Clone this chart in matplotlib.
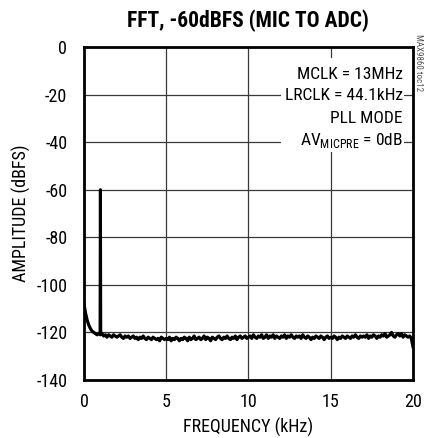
import matplotlib
matplotlib.use("Agg")
import matplotlib.pyplot as plt
from matplotlib import font_manager
from matplotlib.patches import Rectangle
import numpy as np

# pick a condensed sans close to Helvetica Condensed
_installed = {f.name for f in font_manager.fontManager.ttflist}
FONT = next((n for n in ["Roboto Condensed", "Archivo Narrow", "DejaVu Sans Condensed"]
             if n in _installed), "DejaVu Sans")
plt.rcParams["font.family"] = [FONT, "DejaVu Sans"]
plt.rcParams["mathtext.fontset"] = "custom"
plt.rcParams["mathtext.rm"] = FONT
plt.rcParams["axes.unicode_minus"] = False

# noise floor, sampled every 0.1 kHz from 0 to 20 kHz (dBFS)
NOISE_DBFS = [
    -108, -112, -115, -117, -118.5, -119.5, -120, -120.5, -121, -120.5,
    -121, -120.5, -121.5, -121, -122, -121, -121.5, -122, -121, -121.5,
    -122, -121.5, -121, -122, -122.5, -121.5, -122, -121.5, -122.5, -122,
    -121.5, -122.5, -122, -123, -122, -122.5, -121.5, -122.5, -123, -122,
    -122.5, -123, -122, -122.5, -123, -122.5, -123.5, -122, -122.5, -123,
    -122.5, -123, -122, -123.5, -122.5, -123, -122, -122.5, -123.5, -122.5,
    -123, -122, -122.5, -123.5, -122, -123, -122.5, -121.5, -123, -122.5,
    -122, -123, -122.5, -121.5, -123, -122, -122.5, -123.5, -122, -122.5,
    -123, -122, -121.5, -122.5, -123, -122, -122.5, -121.5, -122.5, -123,
    -122, -122.5, -121.5, -123, -122, -121.5, -122.5, -122, -121.5, -122.5,
    -122, -121.5, -122.5, -121, -122, -122.5, -121.5, -122, -121, -122.5,
    -122, -121, -122.5, -121.5, -122, -121, -122.5, -121.5, -122, -122.5,
    -121.5, -122, -121, -122.5, -121.5, -122, -121, -122, -122.5, -121.5,
    -122, -121.5, -122.5, -121, -122, -122.5, -121.5, -122, -123, -122,
    -122.5, -121.5, -122, -122.5, -121.5, -122, -123, -122, -121.5, -122.5,
    -122, -122.5, -121.5, -122, -123, -122, -122.5, -121.5, -122, -122.5,
    -121.5, -122, -122.5, -121.5, -122, -121, -122, -122.5, -121.5, -122,
    -121.5, -122, -121, -122.5, -121.5, -122, -121, -121.5, -122.5, -121.5,
    -122, -121, -121.5, -120.5, -122, -121.5, -121, -120, -121.5, -122,
    -121, -120.5, -121.5, -120.5, -122, -121, -121.5, -122, -121.5, -122.5,
    -126,
]
NOISE_FREQ_KHZ = np.linspace(0, 20, len(NOISE_DBFS))

# -60dBFS test tone at 1kHz
TONE_FREQ_KHZ = [0.98, 1.0, 1.02]
TONE_DBFS = [-120, -60, -120]

NOTES = ["MCLK = 13MHz", "LRCLK = 44.1kHz", "PLL MODE", r"AV$_{\mathrm{MICPRE}}$ = 0dB"]
NOTE_Y = [-11.4, -20.6, -29.9, -39.1]

fig = plt.figure(figsize=(4.24, 4.38), dpi=100)
ax = fig.add_axes([0.198, 0.1324, 0.776, 0.7603])

ax.plot(NOISE_FREQ_KHZ, NOISE_DBFS, color="black", lw=2.3, zorder=3)
ax.plot(TONE_FREQ_KHZ, TONE_DBFS, color="black", lw=2.2, zorder=3)

ax.set_xlim(0, 20)
ax.set_ylim(-140, 0)
ax.set_xticks([0, 5, 10, 15, 20])
ax.set_yticks(range(-140, 1, 20))
ax.grid(True, color="#3a3a3a", lw=0.9)
ax.tick_params(length=0, labelsize=13)
ax.tick_params(axis="y", pad=12)
ax.tick_params(axis="x", pad=9)
for s in ax.spines.values():
    s.set_linewidth(2.0)

# white block behind the conditions text
ax.add_patch(Rectangle((11.95, -44.2), 7.5, 39.6, facecolor="white",
                       edgecolor="none", zorder=2))
for txt, y in zip(NOTES, NOTE_Y):
    ax.text(19.38, y, txt, ha="right", va="center", fontsize=12.5, zorder=4)

ax.set_xlabel("FREQUENCY (kHz)", fontsize=13, labelpad=5)
ax.set_ylabel("AMPLITUDE (dBFS)", fontsize=13, labelpad=4)

fig.text(0.585, 0.953, "FFT, -60dBFS (MIC TO ADC)", ha="center", va="center",
         fontsize=15.5, fontweight="bold")
fig.text(0.986, 0.858, "MAX9860 toc12", rotation=270, ha="center", va="center",
         fontsize=6.5, color="#555555")

fig.savefig("out.png", dpi=100)
